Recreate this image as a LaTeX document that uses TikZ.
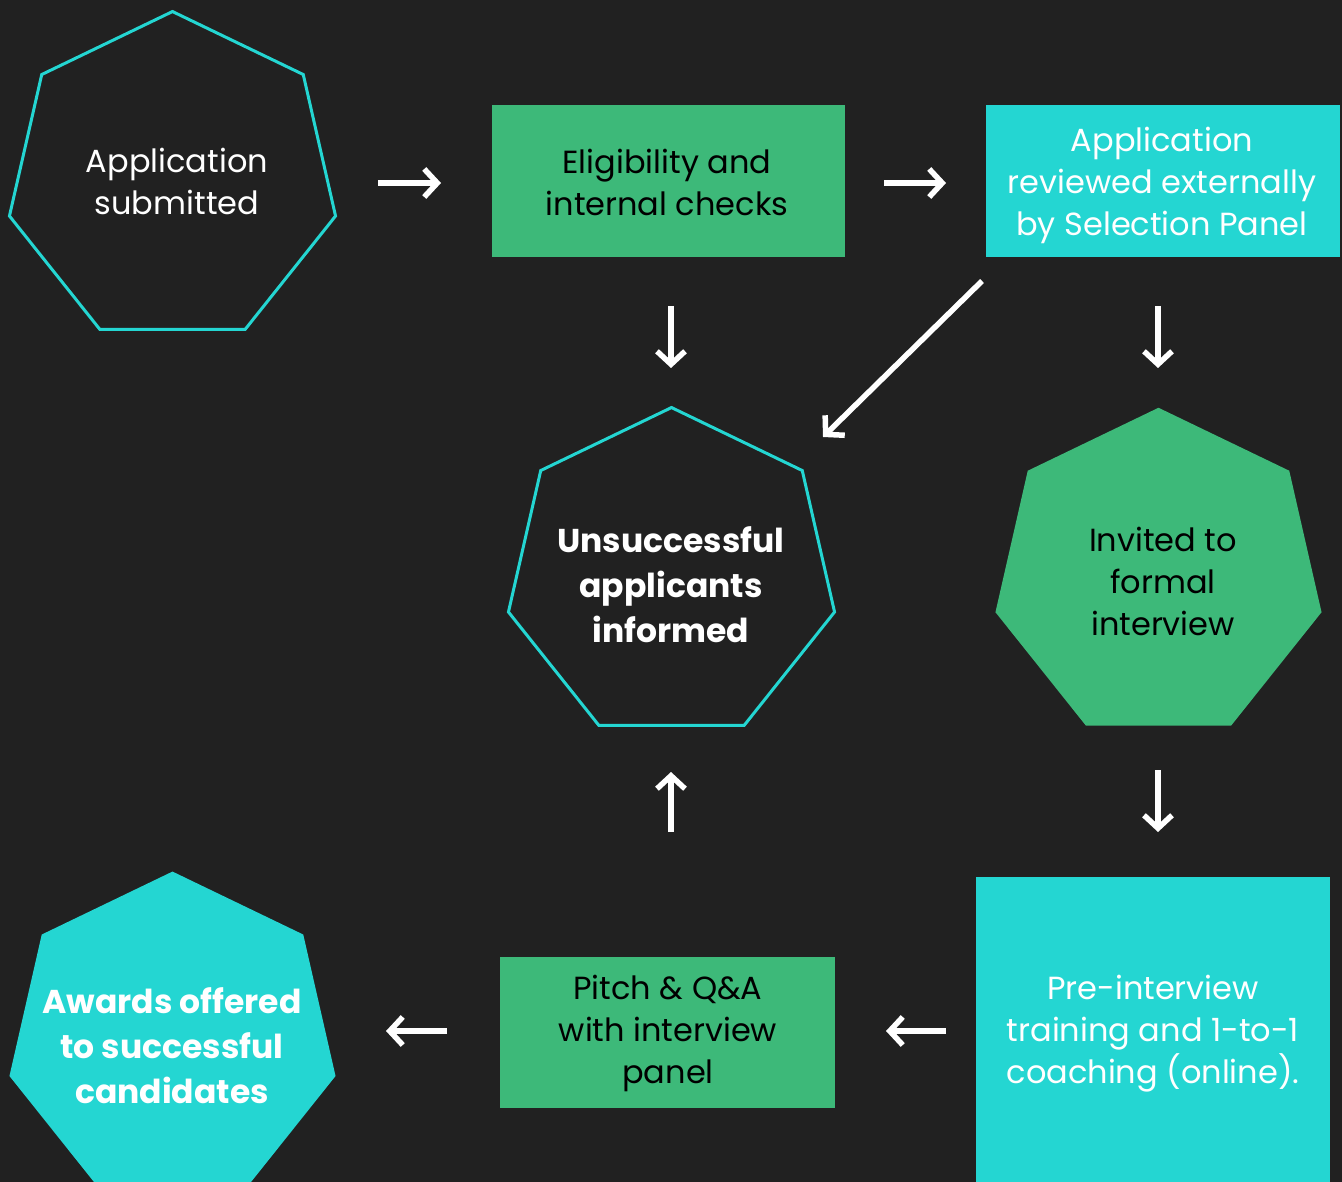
\documentclass[tikz,border=0pt]{standalone}
\usepackage{fontspec}
\setmainfont{Poppins}
\usetikzlibrary{shapes.geometric,arrows.meta}
\definecolor{bg}{HTML}{212121}
\definecolor{grn}{HTML}{3DB979}
\definecolor{cyn}{HTML}{24D6D2}
\begin{document}
\begin{tikzpicture}[x=1pt,y=-1pt,
  hept/.style={regular polygon, regular polygon sides=7, minimum size=334.5pt, inner sep=0pt, outer sep=0pt},
  heptline/.style={hept, draw=cyn, line width=3pt},
  heptfill/.style={hept, fill=#1},
  box/.style={rectangle, inner sep=0pt, outer sep=0pt, fill=#1},
  txt/.style={align=center, inner sep=0pt, font=\fontsize{32}{42}\selectfont, text=#1},
  btxt/.style={align=center, inner sep=0pt, font=\fontsize{33}{45}\selectfont\bfseries, text=#1},
  arr/.style={draw=white, line width=5.5pt, -{Straight Barb[length=13pt,width=28pt]}}
]
\useasboundingbox (0,0) rectangle (1342,1182);
\clip (0,0) rectangle (1342,1182);
\fill[bg] (0,0) rectangle (1342,1182);

% shapes
\node[heptline] (submitted) at (172.5,178.8) {};
\node[box=grn, minimum width=353pt, minimum height=152pt] (elig) at (668.5,181) {};
\node[box=cyn, minimum width=354pt, minimum height=152pt] (review) at (1163,181) {};
\node[heptline] (unsucc) at (671.5,574.8) {};
\node[heptfill=grn] (invited) at (1158.5,575) {};
\node[heptfill=cyn] (awards) at (172.5,1038.8) {};
\node[box=grn, minimum width=335pt, minimum height=151pt] (pitch) at (667.5,1032.5) {};
\node[box=cyn, minimum width=354pt, minimum height=313pt] (pre) at (1153,1033.5) {};

% texts
\node[txt=white] (tsub) at (177,181.5) {Application\\submitted};
\node[txt=black] (telig) at (667,182) {Eligibility and\\internal checks};
\node[txt=white] (trev) at (1162,185) {Application\\reviewed externally\\by Selection Panel};
\node[btxt=white] (tuns) at (671,585) {Unsuccessful\\applicants\\informed};
\node[txt=black] (tinv) at (1163,581) {Invited to\\formal\\interview};
\node[btxt=white] (tawd) at (172,1046) {Awards offered\\to successful\\candidates};
\node[txt=black] (tpit) at (668,1033) {Pitch \& Q\&A\\with interview\\panel};
\node[txt=white] (tpre) at (1153,1034) {Pre-interview\\training and 1-to-1\\coaching (online).};

% arrow end points
\coordinate (a1s) at (378,183);  \coordinate (a1e) at (441,183);
\coordinate (a2s) at (884,183);  \coordinate (a2e) at (946,183);
\coordinate (a3s) at (671,306);  \coordinate (a3e) at (671,368);
\coordinate (a4s) at (1158,306); \coordinate (a4e) at (1158,368);
\coordinate (a5s) at (982,281);  \coordinate (a5e) at (823,437);
\coordinate (a6s) at (1158,770); \coordinate (a6e) at (1158,832);
\coordinate (a7s) at (671,832);  \coordinate (a7e) at (671,772);
\coordinate (a8s) at (946,1031); \coordinate (a8e) at (886,1031);
\coordinate (a9s) at (447,1031); \coordinate (a9e) at (386,1031);

\draw[arr] (a1s) -- (a1e);
\draw[arr] (a2s) -- (a2e);
\draw[arr] (a3s) -- (a3e);
\draw[arr] (a4s) -- (a4e);
\draw[arr] (a5s) -- (a5e);
\draw[arr] (a6s) -- (a6e);
\draw[arr] (a7s) -- (a7e);
\draw[arr] (a8s) -- (a8e);
\draw[arr] (a9s) -- (a9e);
\end{tikzpicture}
\end{document}
